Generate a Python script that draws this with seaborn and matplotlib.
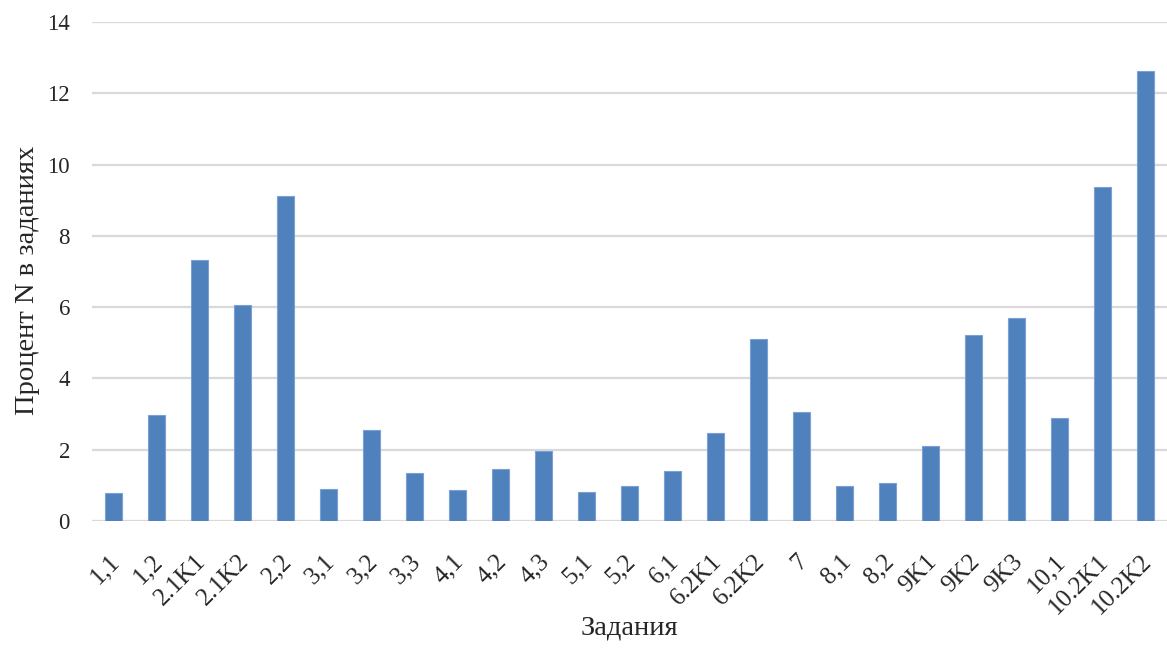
import numpy as np
import pandas as pd
import matplotlib
matplotlib.use("Agg")
import matplotlib.pyplot as plt
import matplotlib.transforms as mtransforms
import seaborn as sns

# Data
tasks = ["1,1", "1,2", "2.1K1", "2.1K2", "2,2", "3,1", "3,2", "3,3", "4,1", "4,2",
         "4,3", "5,1", "5,2", "6,1", "6.2K1", "6.2K2", "7", "8,1", "8,2", "9K1",
         "9K2", "9K3", "10,1", "10.2K1", "10.2K2"]
percent = [0.79, 2.98, 7.33, 6.06, 9.13, 0.90, 2.54, 1.35, 0.87, 1.46,
           1.96, 0.81, 0.98, 1.40, 2.47, 5.11, 3.06, 0.98, 1.07, 2.10,
           5.22, 5.70, 2.88, 9.36, 12.62]
y_ticks = [0, 2, 4, 6, 8, 10, 12, 14]

df = pd.DataFrame({"task": tasks, "percent": percent})

sns.set_style("white")
plt.rcParams["font.family"] = ["Liberation Serif", "DejaVu Serif"]

fig = plt.figure(figsize=(11.67, 6.48), dpi=100)
ax = fig.add_axes([0.079, 0.196, 0.921, 0.770])

sns.barplot(data=df, x="task", y="percent", color="#4f81bd", saturation=1,
            width=0.4, edgecolor="#7ba0d4", linewidth=0.8, ax=ax, zorder=3)

ax.set_ylim(0, 14)
ax.set_yticks(y_ticks)
ax.set_xlim(-0.5, len(tasks) - 0.5)
ax.yaxis.grid(True, color="#d9d9d9", linewidth=1.6, zorder=0)
ax.xaxis.grid(False)
ax.set_axisbelow(True)
for s in ax.spines.values():
    s.set_visible(False)

ax.tick_params(axis="both", length=0, colors="#262626")
ax.tick_params(axis="y", labelsize=16.5, pad=16)
ax.tick_params(axis="x", labelsize=18, pad=21)
# nudge rotated labels a little to the left, like the original
shift = mtransforms.ScaledTranslation(-5 / 100, 0, fig.dpi_scale_trans)
for lab in ax.get_xticklabels():
    lab.set_rotation(45)
    lab.set_ha("right")
    lab.set_rotation_mode("anchor")
    lab.set_transform(lab.get_transform() + shift)

ax.set_xlabel("Задания", fontsize=20.5, color="#262626")
ax.set_ylabel("Процент N в заданиях", fontsize=20.5, color="#262626")
ax.xaxis.set_label_coords(0.5, -0.19)
ax.yaxis.set_label_coords(-0.049, 0.483)

fig.savefig("out.png", dpi=100)
